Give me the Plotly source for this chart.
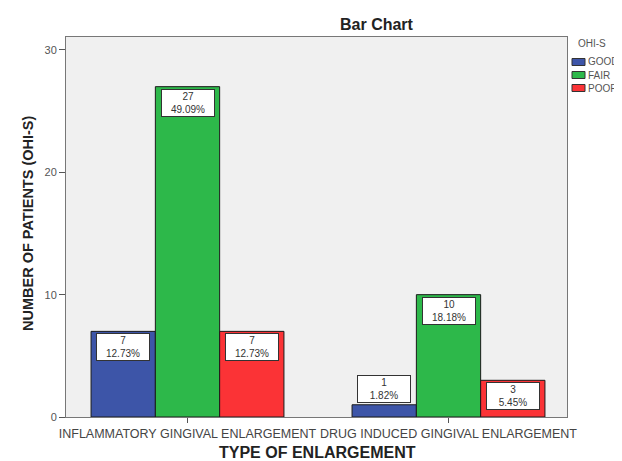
import plotly.graph_objects as go

categories = ["INFLAMMATORY GINGIVAL ENLARGEMENT", "DRUG INDUCED GINGIVAL ENLARGEMENT"]
series_names = ["GOOD", "FAIR", "POOR"]
good_counts = [7, 1]
fair_counts = [27, 10]
poor_counts = [7, 3]
good_pct = ["12.73%", "1.82%"]
fair_pct = ["49.09%", "18.18%"]
poor_pct = ["12.73%", "5.45%"]
y_ticks = [0, 10, 20, 30]

colors = ["#3D55A8", "#2DB84A", "#FB3336"]
values = [good_counts, fair_counts, poor_counts]
pcts = [good_pct, fair_pct, poor_pct]

# page body has an 8px margin; work in reference-window pixels
OFF = 8
WIN_W, WIN_H = 622, 461
W, H = WIN_W - OFF, WIN_H - OFF
PL, PR, PT, PB = 66, 567, 37, 417  # plot area in window pixels
L = PL - OFF
T = PT - OFF
R = WIN_W - PR
B = WIN_H - PB
pw = PR - PL
ph = PB - PT

y_max = 31.06
px_per_unit = ph / y_max

bargap = 0.261
n = len(series_names)
bw = (1 - bargap) / n
xs = list(range(len(categories)))

fig = go.Figure()
for i, name in enumerate(series_names):
    fig.add_trace(go.Bar(
        x=xs, y=values[i], name=name,
        marker=dict(color=colors[i], line=dict(color="#1a1a1a", width=1)),
        showlegend=False,
    ))

annotations = []
for i in range(n):
    off = (i - (n - 1) / 2) * bw
    for j, x in enumerate(xs):
        v = values[i][j]
        inside = v * px_per_unit > 30
        annotations.append(dict(
            x=x + off, y=v, xref="x", yref="y",
            text=f"{v}<br>{pcts[i][j]}",
            showarrow=False,
            yanchor="top" if inside else "bottom",
            yshift=-2 if inside else 2,
            font=dict(family="Arial", size=10, color="#333"),
            bgcolor="white", bordercolor="#333", borderwidth=1,
            borderpad=1, width=50, align="center",
        ))

def px_x(p):
    return (p - PL) / pw

def px_y(p):
    return (PB - p) / ph

# axis titles and chart title
annotations.append(dict(
    x=px_x(28), y=px_y(223), xref="paper", yref="paper", textangle=-90,
    text="<b>NUMBER OF PATIENTS (OHI-S)</b>", showarrow=False,
    font=dict(family="Arial", size=14.5, color="#222"),
    xanchor="center", yanchor="middle"))
annotations.append(dict(
    x=px_x(317), y=px_y(452), xref="paper", yref="paper",
    text="<b>TYPE OF ENLARGEMENT</b>", showarrow=False,
    font=dict(family="Arial", size=16, color="#222"),
    xanchor="center", yanchor="middle"))
annotations.append(dict(
    x=px_x(377), y=px_y(24), xref="paper", yref="paper",
    text="<b>Bar Chart</b>", showarrow=False,
    font=dict(family="Arial", size=16, color="#222"),
    xanchor="center", yanchor="middle"))

# manual legend
annotations.append(dict(
    x=px_x(576), y=px_y(44), xref="paper", yref="paper",
    text="OHI-S", showarrow=False, xanchor="left", yanchor="middle",
    font=dict(family="Arial", size=10, color="#555")))
shapes = []
for i, name in enumerate(series_names):
    cy = 62 + 13 * i
    shapes.append(dict(type="rect", xref="paper", yref="paper",
                       x0=px_x(572), x1=px_x(585), y0=px_y(cy - 3.5), y1=px_y(cy + 3.5),
                       fillcolor=colors[i], line=dict(color="#333", width=1)))
    annotations.append(dict(
        x=px_x(586), y=px_y(cy), xref="paper", yref="paper",
        text=name, showarrow=False, xanchor="left", yanchor="middle",
        font=dict(family="Arial", size=10, color="#555")))

fig.update_layout(
    width=W, height=H,
    margin=dict(l=L, r=R, t=T, b=B, autoexpand=False),
    paper_bgcolor="white", plot_bgcolor="#F0F0F0",
    barmode="group", bargap=bargap, bargroupgap=0,
    annotations=annotations, shapes=shapes,
    showlegend=False,
)
fig.update_xaxes(
    range=[-0.4655, 1.454], tickvals=xs, ticktext=categories,
    showline=True, linecolor="#777", linewidth=1, mirror=True,
    ticks="outside", ticklen=5, tickcolor="#555",
    tickfont=dict(family="Arial", size=12.5, color="#444"),
    showgrid=False, zeroline=False,
)
fig.update_yaxes(
    range=[0, y_max], tickvals=y_ticks,
    showline=True, linecolor="#777", linewidth=1, mirror=True,
    ticks="outside", ticklen=6, tickcolor="#555",
    tickfont=dict(family="Arial", size=11, color="#555"),
    showgrid=False, zeroline=False,
)
fig.write_html("out.html")
